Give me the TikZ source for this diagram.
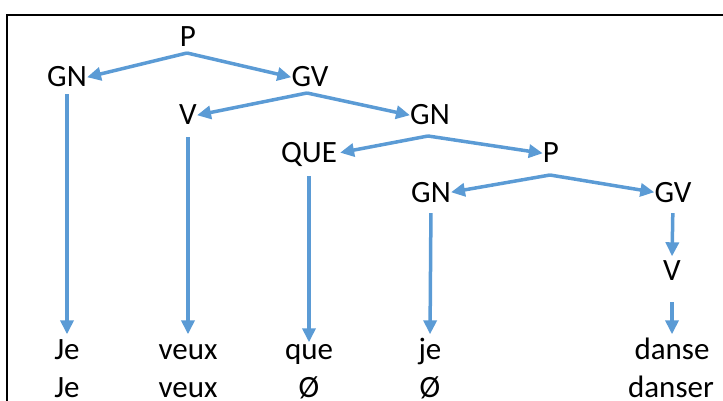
\documentclass[tikz,border=0pt]{standalone}
\usepackage{fontspec}
\setmainfont{Carlito}
\usetikzlibrary{arrows.meta}
\definecolor{branchblue}{HTML}{5B9BD5}
\tikzset{
	lab/.style={inner sep=0pt, anchor=base, text height=19.5pt, text depth=0pt, font=\fontsize{31}{37}\selectfont},
	arr/.style={draw=branchblue, line width=3.5pt, -{Triangle[length=14pt,width=13pt]}}
}
\begin{document}
\begin{tikzpicture}[x=1pt,y=-1pt]
			\useasboundingbox (0,0) rectangle (723,401);
			\draw[line width=2pt] (7,410) |- (730,15.5);
			\node[lab] (p1) at (188,46.5) {P};
			\node[lab] (gn1) at (67,87) {GN};
			\node[lab] (gv1) at (310,87) {GV};
			\node[lab] (v1) at (188,125) {V};
			\node[lab] (gn2) at (430,125) {GN};
			\node[lab] (que) at (309,163) {QUE};
			\node[lab] (p2) at (551,163) {P};
			\node[lab] (gn3) at (431,202) {GN};
			\node[lab] (gv2) at (673,202) {GV};
			\node[lab] (v2) at (672,280) {V};
			\node[lab] (w1) at (67,359.5) {Je};
			\node[lab] (w2) at (188,359.5) {veux};
			\node[lab] (w3) at (309,359.5) {que};
			\node[lab] (w4) at (430,359.5) {je};
			\node[lab] (w5) at (672,359.5) {danse};
			\node[lab] (b1) at (67,397) {Je};
			\node[lab] (b2) at (188,397) {veux};
			\node[lab] (b3) at (309,397) {Ø};
			\node[lab] (b4) at (430,397) {Ø};
			\node[lab] (b5) at (671,397) {danser};
			\coordinate (p1-fork) at (187,53);
			\coordinate (gv1-fork) at (307,93);
			\coordinate (gn2-fork) at (428,136);
			\coordinate (p2-fork) at (550,175);
			\draw[arr] (p1-fork) -- (gn1.east);
			\draw[arr] (p1-fork) -- (gv1.west);
			\draw[arr] (gv1-fork) -- (v1.east);
			\draw[arr] (gv1-fork) -- (gn2.west);
			\draw[arr, shorten >=3pt] (gn2-fork) -- (que.east);
			\draw[arr] (gn2-fork) -- (p2.west);
			\draw[arr] (p2-fork) -- (gn3.east);
			\draw[arr] (p2-fork) -- (gv2.west);
			\draw[arr, shorten <=7pt, shorten >=5.5pt] (gn1.south) -- (w1.north);
			\draw[arr, shorten <=12pt, shorten >=5.5pt] (v1.south) -- (w2.north);
			\draw[arr, shorten <=13pt, shorten >=-2.5pt] (que.south) -- (w3.north);
			\draw[arr, shorten <=11pt, shorten >=5.5pt] (gn3.south) -- (w4.north);
			\draw[arr, shorten <=11pt, shorten >=4pt] (gv2.south) -- (v2.north);
			\draw[arr, shorten <=22pt, shorten >=5.5pt] (v2.south) -- (w5.north);
\end{tikzpicture}
\end{document}
